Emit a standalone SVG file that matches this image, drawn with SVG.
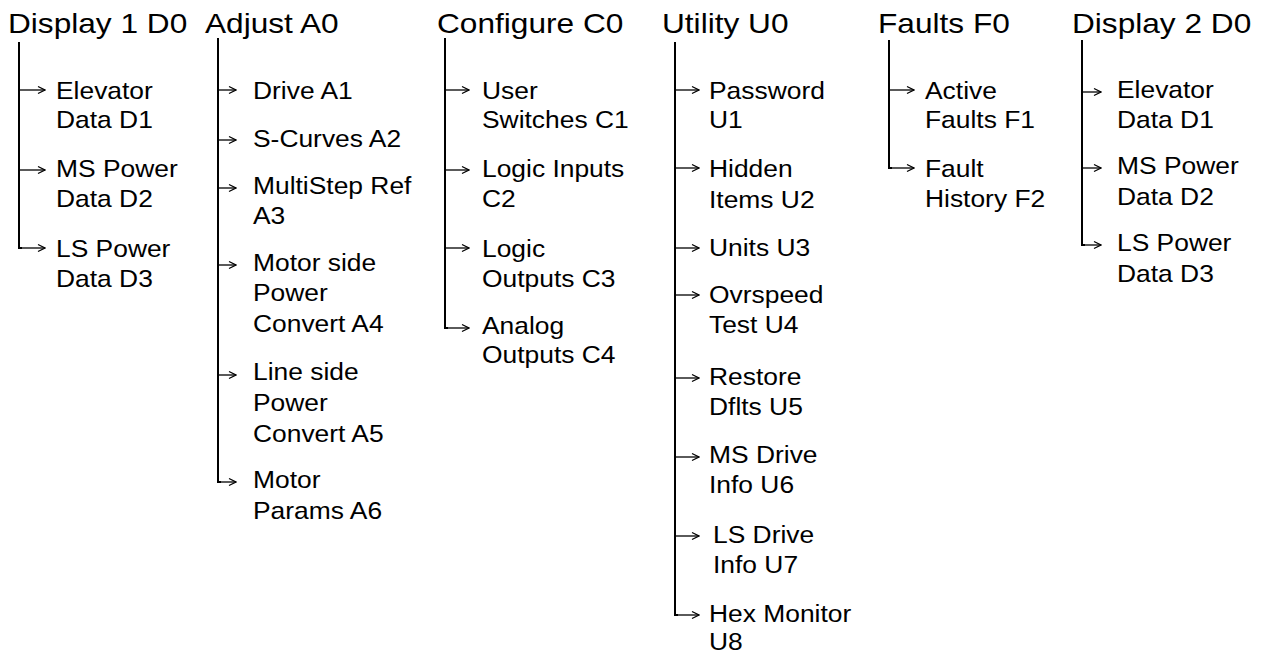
<svg xmlns="http://www.w3.org/2000/svg" width="1262" height="654" viewBox="0 0 1262 654">
<style>
text{font-family:"Liberation Sans",Arial,sans-serif;fill:#000}
.h{font-size:28px}
.c{font-size:24px}
.v{stroke:#000;stroke-width:2;fill:none}
.a{stroke:#000;stroke-width:1.3;fill:none}
</style>
<defs>
<marker id="ah" viewBox="0 0 10 10" refX="9" refY="5" markerWidth="10" markerHeight="10" markerUnits="userSpaceOnUse" orient="auto">
<path d="M2,1.5 L9,5 L2,8.5" fill="none" stroke="#000" stroke-width="1.3"/>
</marker>
</defs>
<rect width="1262" height="654" fill="#fff"/>
<g id="connectors">
<path class="v" d="M19,42 V248 H22"/>
<path class="a" marker-end="url(#ah)" d="M19,90 H45"/>
<path class="a" marker-end="url(#ah)" d="M19,170 H45"/>
<path class="a" marker-end="url(#ah)" d="M19,248 H45"/>
<path class="v" d="M218,38 V482 H221"/>
<path class="a" marker-end="url(#ah)" d="M218,90 H236"/>
<path class="a" marker-end="url(#ah)" d="M218,140 H236"/>
<path class="a" marker-end="url(#ah)" d="M218,188 H236"/>
<path class="a" marker-end="url(#ah)" d="M218,265 H236"/>
<path class="a" marker-end="url(#ah)" d="M218,375 H236"/>
<path class="a" marker-end="url(#ah)" d="M218,482 H236"/>
<path class="v" d="M445,38 V328 H448"/>
<path class="a" marker-end="url(#ah)" d="M445,90 H469"/>
<path class="a" marker-end="url(#ah)" d="M445,170 H469"/>
<path class="a" marker-end="url(#ah)" d="M445,248 H469"/>
<path class="a" marker-end="url(#ah)" d="M445,328 H469"/>
<path class="v" d="M675,42 V615 H678"/>
<path class="a" marker-end="url(#ah)" d="M675,90 H699"/>
<path class="a" marker-end="url(#ah)" d="M675,168 H699"/>
<path class="a" marker-end="url(#ah)" d="M675,248 H699"/>
<path class="a" marker-end="url(#ah)" d="M675,295 H699"/>
<path class="a" marker-end="url(#ah)" d="M675,378 H699"/>
<path class="a" marker-end="url(#ah)" d="M675,457 H699"/>
<path class="a" marker-end="url(#ah)" d="M675,536 H699"/>
<path class="a" marker-end="url(#ah)" d="M675,615 H699"/>
<path class="v" d="M889,40 V168 H892"/>
<path class="a" marker-end="url(#ah)" d="M889,90 H914"/>
<path class="a" marker-end="url(#ah)" d="M889,168 H914"/>
<path class="v" d="M1082,40 V245 H1085"/>
<path class="a" marker-end="url(#ah)" d="M1082,92 H1101"/>
<path class="a" marker-end="url(#ah)" d="M1082,168 H1101"/>
<path class="a" marker-end="url(#ah)" d="M1082,245 H1101"/>
</g>
<g id="display1" transform="translate(8,0) scale(1.13,1)"><text class="h" y="33">Display 1 D0</text></g>
<g id="d1-elevator" transform="translate(56,0) scale(1.1,1)"><text class="c" y="99">Elevator<tspan x="0" y="128">Data D1</tspan></text></g>
<g id="d1-mspower" transform="translate(56,0) scale(1.1,1)"><text class="c" y="177">MS Power<tspan x="0" y="207">Data D2</tspan></text></g>
<g id="d1-lspower" transform="translate(56,0) scale(1.1,1)"><text class="c" y="257">LS Power<tspan x="0" y="287">Data D3</tspan></text></g>
<g id="adjust" transform="translate(205,0) scale(1.13,1)"><text class="h" y="33">Adjust A0</text></g>
<g id="a-drive" transform="translate(253,0) scale(1.1,1)"><text class="c" y="99">Drive A1</text></g>
<g id="a-scurves" transform="translate(253,0) scale(1.1,1)"><text class="c" y="147">S-Curves A2</text></g>
<g id="a-multistep" transform="translate(253,0) scale(1.1,1)"><text class="c" y="194">MultiStep Ref<tspan x="0" y="224">A3</tspan></text></g>
<g id="a-motorside" transform="translate(253,0) scale(1.1,1)"><text class="c" y="271">Motor side<tspan x="0" y="301">Power</tspan><tspan x="0" y="332">Convert A4</tspan></text></g>
<g id="a-lineside" transform="translate(253,0) scale(1.1,1)"><text class="c" y="380">Line side<tspan x="0" y="411">Power</tspan><tspan x="0" y="442">Convert A5</tspan></text></g>
<g id="a-motor" transform="translate(253,0) scale(1.1,1)"><text class="c" y="488">Motor<tspan x="0" y="519">Params A6</tspan></text></g>
<g id="configure" transform="translate(437,0) scale(1.13,1)"><text class="h" y="33">Configure C0</text></g>
<g id="c-user" transform="translate(482,0) scale(1.1,1)"><text class="c" y="99">User<tspan x="0" y="128">Switches C1</tspan></text></g>
<g id="c-logicin" transform="translate(482,0) scale(1.1,1)"><text class="c" y="177">Logic Inputs<tspan x="0" y="207">C2</tspan></text></g>
<g id="c-logicout" transform="translate(482,0) scale(1.1,1)"><text class="c" y="257">Logic<tspan x="0" y="287">Outputs C3</tspan></text></g>
<g id="c-analog" transform="translate(482,0) scale(1.1,1)"><text class="c" y="334">Analog<tspan x="0" y="363">Outputs C4</tspan></text></g>
<g id="utility" transform="translate(662,0) scale(1.13,1)"><text class="h" y="33">Utility U0</text></g>
<g id="u-password" transform="translate(709,0) scale(1.1,1)"><text class="c" y="99">Password<tspan x="0" y="128">U1</tspan></text></g>
<g id="u-hidden" transform="translate(709,0) scale(1.1,1)"><text class="c" y="177">Hidden<tspan x="0" y="208">Items U2</tspan></text></g>
<g id="u-units" transform="translate(709,0) scale(1.1,1)"><text class="c" y="256">Units U3</text></g>
<g id="u-ovrspeed" transform="translate(709,0) scale(1.1,1)"><text class="c" y="303">Ovrspeed<tspan x="0" y="333">Test U4</tspan></text></g>
<g id="u-restore" transform="translate(709,0) scale(1.1,1)"><text class="c" y="385">Restore<tspan x="0" y="415">Dflts U5</tspan></text></g>
<g id="u-msdrive" transform="translate(709,0) scale(1.1,1)"><text class="c" y="463">MS Drive<tspan x="0" y="493">Info U6</tspan></text></g>
<g id="u-lsdrive" transform="translate(713,0) scale(1.1,1)"><text class="c" y="543">LS Drive<tspan x="0" y="573">Info U7</tspan></text></g>
<g id="u-hex" transform="translate(709,0) scale(1.1,1)"><text class="c" y="622">Hex Monitor<tspan x="0" y="650">U8</tspan></text></g>
<g id="faults" transform="translate(878,0) scale(1.13,1)"><text class="h" y="33">Faults F0</text></g>
<g id="f-active" transform="translate(925,0) scale(1.1,1)"><text class="c" y="99">Active<tspan x="0" y="128">Faults F1</tspan></text></g>
<g id="f-history" transform="translate(925,0) scale(1.1,1)"><text class="c" y="177">Fault<tspan x="0" y="207">History F2</tspan></text></g>
<g id="display2" transform="translate(1072,0) scale(1.13,1)"><text class="h" y="33">Display 2 D0</text></g>
<g id="d2-elevator" transform="translate(1117,0) scale(1.1,1)"><text class="c" y="98">Elevator<tspan x="0" y="128">Data D1</tspan></text></g>
<g id="d2-mspower" transform="translate(1117,0) scale(1.1,1)"><text class="c" y="174">MS Power<tspan x="0" y="205">Data D2</tspan></text></g>
<g id="d2-lspower" transform="translate(1117,0) scale(1.1,1)"><text class="c" y="251">LS Power<tspan x="0" y="282">Data D3</tspan></text></g>
</svg>
